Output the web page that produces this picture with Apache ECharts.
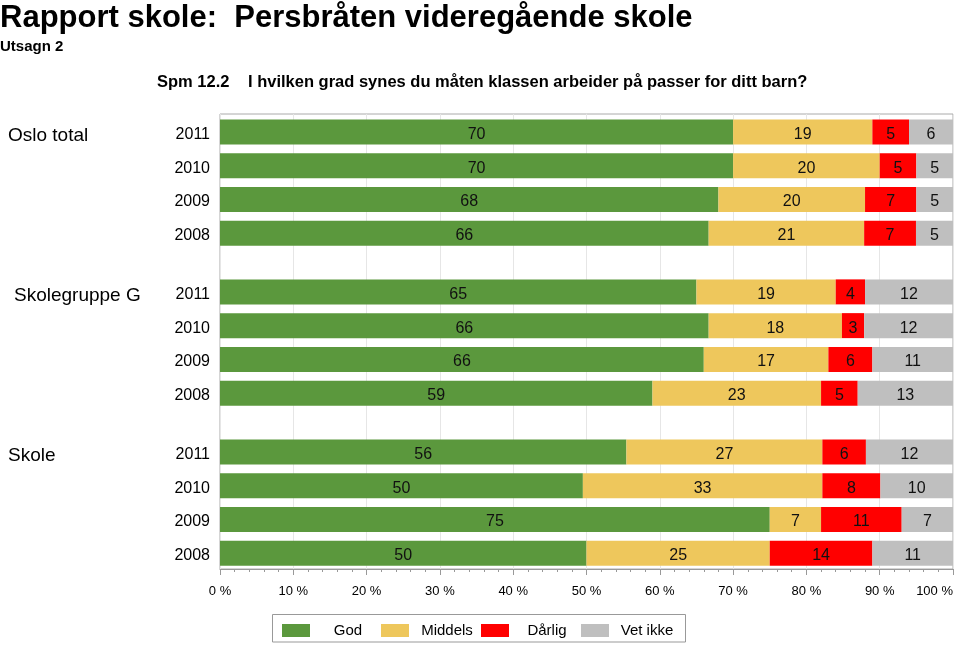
<!DOCTYPE html>
<html><head><meta charset="utf-8">
<script src="https://cdn.jsdelivr.net/npm/echarts@6/dist/echarts.min.js"></script>
<style>html,body{margin:0;padding:0;background:#fff}#c{width:960px;height:645px}</style>
</head><body><div id="c"></div>
<script>
// ---- data ----
const groups = ['Oslo total', 'Skolegruppe G', 'Skole'];
const years = ['2011', '2010', '2009', '2008'];
const categories = ['God', 'Middels', 'Dårlig', 'Vet ikke'];
const god     = [[70, 70, 68, 66], [65, 66, 66, 59], [56, 50, 75, 50]];
const middels = [[19, 20, 20, 21], [19, 18, 17, 23], [27, 33, 7, 25]];
const darlig  = [[5, 5, 7, 7],     [4, 3, 6, 5],     [6, 8, 11, 14]];
const vetIkke = [[6, 5, 5, 5],     [12, 12, 11, 13], [12, 10, 7, 11]];
const xTickLabels = ['0 %', '10 %', '20 %', '30 %', '40 %', '50 %', '60 %', '70 %', '80 %', '90 %', '100 %'];

// ---- styling ----
const FONT = 'Liberation Sans, Arial, Helvetica, sans-serif';
const colors = ['#5B983D', '#EEC75C', '#FF0000', '#BFBFBF'];
const gridTops = [115, 275, 435];
const legendLefts = [282, 381, 481, 581];
const seriesValues = [god, middels, darlig, vetIkke];

const grids = [{ left: 220, right: 7, top: 114, bottom: 76, show: true, borderColor: '#aaaaaa', borderWidth: 1, z: 0,
  containLabel: false, outerBoundsMode: 'none' }];
const xAxes = [{
  gridIndex: 0, type: 'value', min: 0, max: 100, interval: 10,
  axisLine: { show: true, lineStyle: { color: '#999999', width: 1 } },
  axisTick: { show: true, inside: false, length: 6, lineStyle: { color: '#999999' } },
  minorTick: { show: true, splitNumber: 5, length: 3, lineStyle: { color: '#999999' } },
  splitLine: { show: true, lineStyle: { color: '#e6e6e6', width: 1 } },
  axisLabel: { margin: 16, fontSize: 13, color: '#000', fontFamily: FONT, alignMaxLabel: 'right',
    hideOverlap: false, formatter: v => xTickLabels[Math.round(v / 10)] }
}];
const yAxes = [{ gridIndex: 0, type: 'category', data: [''], show: false }];
const series = [];

groups.forEach((g, gi) => {
  grids.push({ left: 220, right: 7, top: gridTops[gi], height: 135, containLabel: false, outerBoundsMode: 'none' });
  xAxes.push({ gridIndex: gi + 1, type: 'value', min: 0, max: 100, show: false, splitLine: { show: false } });
  yAxes.push({
    gridIndex: gi + 1, type: 'category', data: years, inverse: true,
    axisLine: { show: false }, axisTick: { show: false },
    axisLabel: { margin: 10, color: '#000', fontFamily: FONT, fontSize: 16,
      formatter: '{y|{value}}',
      rich: { y: { fontSize: 16, fontFamily: FONT, color: '#000', padding: [5, 0, 0, 0] } } }
  });
  const totals = years.map((y, yi) => seriesValues.reduce((s, arr) => s + arr[gi][yi], 0));
  categories.forEach((c, ci) => {
    series.push({
      name: c, type: 'bar', stack: 'g' + gi, xAxisIndex: gi + 1, yAxisIndex: gi + 1,
      barWidth: 25, itemStyle: { color: colors[ci] },
      label: { show: true, position: 'inside', color: '#111', fontSize: 16, fontFamily: FONT, offset: [0, 2.5],
        formatter: p => String(p.data.raw) },
      data: years.map((y, yi) => ({ value: seriesValues[ci][gi][yi] / totals[yi] * 100, raw: seriesValues[ci][gi][yi] })),
      animation: false, silent: true
    });
  });
});

const legends = categories.map((c, ci) => ({
  data: [c], left: legendLefts[ci], top: 623, orient: 'horizontal', padding: 0,
  itemWidth: 28, itemHeight: 13, icon: 'rect', selectedMode: false,
  formatter: '{t|{name}}',
  textStyle: { fontFamily: FONT, fontSize: 15, color: '#000',
    rich: { t: { width: 66, align: 'center', fontSize: 15, fontFamily: FONT, color: '#000' } } }
}));

const graphic = [
  { type: 'text', left: 0, top: 3, style: { text: 'Rapport skole:  Persbråten videregående skole', font: 'bold 31px ' + FONT, fill: '#000' } },
  { type: 'text', left: 0, top: 39, style: { text: 'Utsagn 2', font: 'bold 15px ' + FONT, fill: '#000' } },
  { type: 'text', left: 157, top: 74, style: { text: 'Spm 12.2', font: 'bold 16.5px ' + FONT, fill: '#000' } },
  { type: 'text', left: 248, top: 74, style: { text: 'I hvilken grad synes du måten klassen arbeider på passer for ditt barn?', font: 'bold 16.5px ' + FONT, fill: '#000' } },
  { type: 'text', left: 8, top: 126, style: { text: groups[0], font: '19px ' + FONT, fill: '#000' } },
  { type: 'text', left: 14, top: 286, style: { text: groups[1], font: '19px ' + FONT, fill: '#000' } },
  { type: 'text', left: 8, top: 446, style: { text: groups[2], font: '19px ' + FONT, fill: '#000' } },
  { type: 'rect', shape: { x: 272.5, y: 614.5, width: 413, height: 27.5 }, style: { fill: 'none', stroke: '#999999', lineWidth: 1 }, silent: true, z: 10 }
];

const chart = echarts.init(document.getElementById('c'), null, { renderer: 'canvas' });
chart.setOption({
  animation: false,
  backgroundColor: '#ffffff',
  grid: grids, xAxis: xAxes, yAxis: yAxes, series: series, graphic: graphic,
  legend: legends
});
</script></body></html>
